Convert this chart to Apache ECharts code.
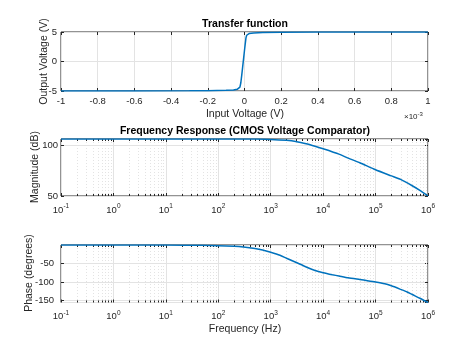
<!DOCTYPE html>
<html><head><meta charset="utf-8">
<script src="https://cdn.jsdelivr.net/npm/echarts@6/dist/echarts.min.js"></script>
<style>html,body{margin:0;padding:0;background:#fff}#c{width:474px;height:355px}</style>
</head><body><div id="c"></div>
<script>
// ---- data ----
// Transfer function: input voltage in units of 1e-3 V (axis shows x10^-3), output in V
const transferVin  = [-1, -0.6, -0.3, -0.2, -0.1, -0.06, -0.04, -0.03, -0.025, -0.02, -0.015, -0.01, -0.005, 0, 0.004, 0.008, 0.012, 0.016, 0.025, 0.05, 0.1, 0.2, 0.4, 1];
const transferVout = [-5, -4.99, -4.97, -4.95, -4.89, -4.82, -4.72, -4.6, -4.35, -3.6, -2.3, -0.9, 0.5, 1.9, 3.0, 4.0, 4.45, 4.62, 4.74, 4.83, 4.9, 4.95, 4.98, 5];
// Magnitude response
const magFreqHz = [0.1, 1, 10, 100, 300, 500, 1000, 2000, 3000, 5000, 7000, 10000, 20000, 30000, 50000, 100000, 200000, 300000, 500000, 700000, 1000000];
const magnitudeDb = [106.6, 106.6, 106.6, 106.6, 106.6, 106.5, 106.2, 105.3, 104.2, 101.6, 99.4, 96.9, 91.6, 87.6, 83.0, 76.0, 70.0, 66.5, 60.2, 55.6, 50.0];
// Phase response
const phaseFreqHz = [0.1, 1, 10, 50, 100, 200, 300, 500, 700, 1000, 1500, 2000, 3000, 5000, 7000, 10000, 15000, 20000, 30000, 50000, 70000, 100000, 150000, 200000, 300000, 400000, 500000, 700000, 1000000];
const phaseDeg    = [-0.3, -0.3, -0.4, -1, -2, -4, -6, -10, -14, -20, -28, -36, -47, -61, -69, -75, -80.5, -84, -89, -93.5, -96.5, -100, -105, -110.5, -120, -127, -134, -144, -155.5];
// Tick labels
const vinTickLabels = ['-1', '-0.8', '-0.6', '-0.4', '-0.2', '0', '0.2', '0.4', '0.6', '0.8', '1'];
const freqDecadeExponents = [-1, 0, 1, 2, 3, 4, 5, 6];
const voutTicks = [-5, 0, 5];
const magTicks = [50, 100];
const phaseTicks = [-150, -100, -50];

// minor log ticks (2..9 x 10^k)
const minorFreqs = [];
for (let e = -1; e < 6; e++) for (let m = 2; m <= 9; m++) minorFreqs.push(+(m * Math.pow(10, e)).toPrecision(3));

const FONT = 'Liberation Sans, Arial, Helvetica, sans-serif';
const TXT = '#262626';
const GRIDC = '#e3e3e3';
const LINEC = '#0072BD';

const magMin = Math.min(...magnitudeDb), magMax = Math.max(...magnitudeDb);
const phMin = Math.min(...phaseDeg), phMax = Math.max(...phaseDeg);

const grids = [
  {left: 61, top: 32, width: 367, height: 59},
  {left: 61, top: 139, width: 367, height: 57},
  {left: 61, top: 245, width: 367, height: 57.5}
].map(g => Object.assign(g, {show: true, borderColor: TXT, borderWidth: 1, backgroundColor: 'transparent', containLabel: false}));

const tick = {show: true, inside: true, length: 3, lineStyle: {color: TXT, width: 1}};
const noLine = {show: false, onZero: false};
const split = {show: true, lineStyle: {color: GRIDC, width: 1}};
const lbl = {color: TXT, fontSize: 9.5, fontFamily: FONT};

const logLabel = Object.assign({}, lbl, {
  margin: 7,
  formatter: v => '{b|10}{s|' + freqDecadeExponents[freqDecadeExponents.indexOf(Math.round(Math.log10(v)))] + '}',
  rich: {
    b: {fontSize: 9.5, color: TXT, fontFamily: FONT, verticalAlign: 'bottom'},
    s: {fontSize: 6.5, color: TXT, fontFamily: FONT, verticalAlign: 'bottom', padding: [0, 0, 5, 0]}
  }
});

function logAxis(gi, pos, labels) {
  return {type: 'log', logBase: 10, gridIndex: gi, position: pos, min: 0.1, max: 1e6,
    axisLine: noLine, axisTick: tick, splitLine: labels ? split : {show: false},
    minorTick: {show: false},
    axisLabel: labels ? logLabel : {show: false}};
}

const xAxis = [
  {type: 'value', gridIndex: 0, position: 'bottom', min: -1, max: 1, interval: 0.2,
    axisLine: noLine, axisTick: tick, splitLine: split,
    axisLabel: Object.assign({}, lbl, {margin: 5, formatter: v => vinTickLabels[Math.round((v + 1) * 5)]})},
  {type: 'value', gridIndex: 0, position: 'top', min: -1, max: 1, interval: 0.2,
    axisLine: noLine, axisTick: tick, splitLine: {show: false}, axisLabel: {show: false}},
  logAxis(1, 'bottom', true),
  logAxis(1, 'top', false),
  logAxis(2, 'bottom', true),
  logAxis(2, 'top', false)
];

const only = arr => v => (arr.indexOf(Math.round(v * 1000) / 1000) >= 0 ? String(Math.round(v)) : '');

const yAxis = [
  {type: 'value', gridIndex: 0, position: 'left', min: -5, max: 5, interval: 5,
    axisLine: noLine, axisTick: tick, splitLine: split,
    axisLabel: Object.assign({}, lbl, {margin: 4, formatter: only(voutTicks)})},
  {type: 'value', gridIndex: 0, position: 'right', min: -5, max: 5, interval: 5,
    axisLine: noLine, axisTick: tick, splitLine: {show: false}, axisLabel: {show: false}},
  {type: 'value', gridIndex: 1, position: 'left', min: magMin, max: magMax, interval: 50,
    axisLine: noLine, axisTick: tick, splitLine: split,
    axisLabel: Object.assign({}, lbl, {margin: 3, showMaxLabel: false, formatter: only(magTicks)})},
  {type: 'value', gridIndex: 1, position: 'right', min: magMin, max: magMax, interval: 50,
    axisLine: noLine, axisTick: tick, splitLine: {show: false}, axisLabel: {show: false}},
  {type: 'value', gridIndex: 2, position: 'left', min: phMin, max: phMax, splitNumber: 3,
    axisLine: noLine, axisTick: tick, splitLine: split,
    axisLabel: Object.assign({}, lbl, {margin: 7, showMinLabel: false, showMaxLabel: false, formatter: only(phaseTicks)})},
  {type: 'value', gridIndex: 2, position: 'right', min: phMin, max: phMax, splitNumber: 3,
    axisLine: noLine, axisTick: tick, splitLine: {show: false}, axisLabel: {show: false}}
];

function minorRender(params, api) {
  const cs = params.coordSys;
  const x = Math.round(api.coord([api.value(0), api.value(1)])[0]) + 0.5;
  const y0 = cs.y, y1 = cs.y + cs.height;
  return {type: 'group', children: [
    {type: 'line', shape: {x1: x, y1: y0, x2: x, y2: y1}, style: {stroke: GRIDC, lineWidth: 1, lineDash: [1, 2]}},
    {type: 'line', shape: {x1: x, y1: y1, x2: x, y2: y1 - 2}, style: {stroke: TXT, lineWidth: 1}},
    {type: 'line', shape: {x1: x, y1: y0, x2: x, y2: y0 + 2}, style: {stroke: TXT, lineWidth: 1}}
  ]};
}

const series = [
  {type: 'line', xAxisIndex: 0, yAxisIndex: 0, data: transferVin.map((v, i) => [v, transferVout[i]]),
    showSymbol: false, smooth: false, lineStyle: {color: LINEC, width: 1.5}, z: 5, animation: false},
  {type: 'custom', xAxisIndex: 2, yAxisIndex: 2, data: minorFreqs.map(f => [f, magMin]), renderItem: minorRender, z: 1, silent: true, animation: false},
  {type: 'line', xAxisIndex: 2, yAxisIndex: 2, data: magFreqHz.map((f, i) => [f, magnitudeDb[i]]),
    showSymbol: false, smooth: 0.2, lineStyle: {color: LINEC, width: 1.5}, z: 5, animation: false},
  {type: 'custom', xAxisIndex: 4, yAxisIndex: 4, data: minorFreqs.map(f => [f, phMin]), renderItem: minorRender, z: 1, silent: true, animation: false},
  {type: 'line', xAxisIndex: 4, yAxisIndex: 4, data: phaseFreqHz.map((f, i) => [f, phaseDeg[i]]),
    showSymbol: false, smooth: 0.2, lineStyle: {color: LINEC, width: 1.5}, z: 5, animation: false}
];

function txt(text, x, y, opts) {
  return Object.assign({type: 'text', x: x, y: y, silent: true,
    style: Object.assign({text: text, fill: TXT, fontSize: 10.5, fontFamily: FONT, align: 'center', verticalAlign: 'middle'}, opts && opts.style || {})},
    opts && opts.rotation ? {rotation: opts.rotation} : {});
}

const graphic = [
  txt('Transfer function', 245, 24.5, {style: {fontWeight: 'bold', fill: '#000'}}),
  txt('Input Voltage (V)', 245, 114),
  txt('Output Voltage (V)', 44, 61.5, {rotation: Math.PI / 2}),
  {type: 'text', x: 404, y: 116, silent: true, style: {text: '{a|\u00d710}{b|-3}', align: 'left', verticalAlign: 'middle',
    rich: {a: {fontSize: 8, fill: TXT, fontFamily: FONT, verticalAlign: 'bottom'}, b: {fontSize: 6, fill: TXT, fontFamily: FONT, verticalAlign: 'bottom', padding: [0, 0, 4, 0]}}}},
  txt('Frequency Response (CMOS Voltage Comparator)', 245, 131.5, {style: {fontWeight: 'bold', fill: '#000'}}),
  txt('Magnitude (dB)', 35, 167, {rotation: Math.PI / 2}),
  txt('Phase (degrees)', 29, 273, {rotation: Math.PI / 2}),
  txt('Frequency (Hz)', 245, 329.5)
];

const chart = echarts.init(document.getElementById('c'), null, {renderer: 'canvas'});
chart.setOption({animation: false, backgroundColor: '#fff', grid: grids, xAxis: xAxis, yAxis: yAxis, series: series, graphic: graphic});
</script>
</body></html>
